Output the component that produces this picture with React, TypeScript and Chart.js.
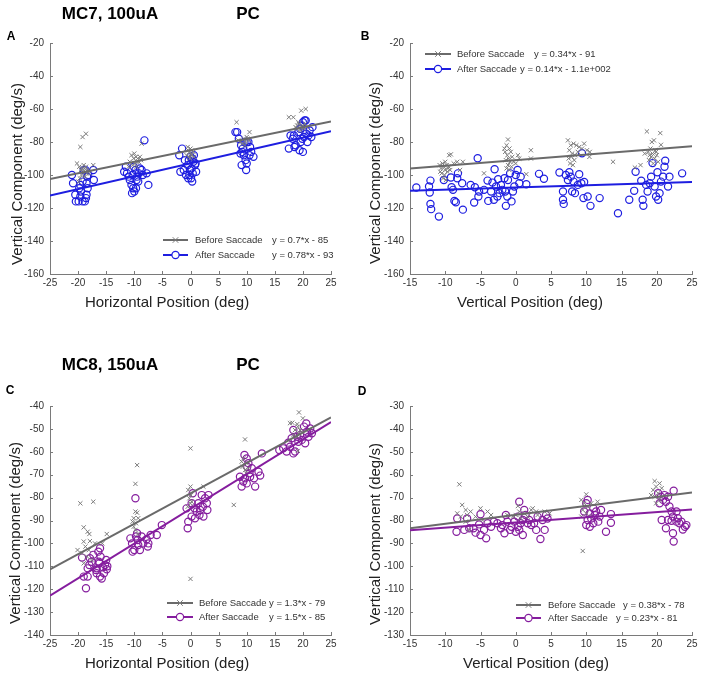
import React, { useEffect, useRef } from "react";
import { Chart, registerables } from "chart.js";
Chart.register(...registerables);

type Pt = [number, number];

const seriesNames = ["Before Saccade", "After Saccade"];

// ---------- Panel A (MC7, horizontal) ----------
const aBefore: Pt[] = [
  [-19.6,-83],[-19.2,-77],[-18.6,-75],[-20.2,-93],[-19.8,-95],[-19.5,-97],[-19.2,-98],[-18.9,-96],[-18.6,-95],[-18.3,-97],
  [-18,-99],[-17.3,-94],[-19.4,-100],[-19.7,-102],[-19.9,-104],[-18.8,-101],[-19,-94],[-18.5,-99],[-19.3,-96],[-18.7,-98],
  [-10.5,-88],[-10,-87],[-9.7,-89],[-9.4,-90],[-9.2,-92],[-8.8,-91],[-10.8,-92],[-10.3,-94],[-9.9,-93],[-9.6,-95],
  [-11,-95],[-8.7,-81],[-9,-89],[-10.1,-90],[-9.5,-92],
  [-0.5,-83],[0,-84],[-0.2,-86],[0.3,-85],[-0.7,-88],[-0.3,-89],[0.1,-87],[0.5,-86],[-0.1,-90],[0.2,-88],[-0.4,-85],[0.6,-89],
  [8.2,-68],[8.5,-79],[9.8,-80],[10.2,-78],[10.5,-74],[9.5,-78],[10,-77],[9.2,-81],[8.9,-80],[10.4,-79],[9.7,-82],
  [17.5,-65],[18.3,-65],[19.7,-61],[20.5,-60],[19,-70],[19.3,-69],[19.6,-71],[19.9,-70],[20.1,-72],[19.5,-73],
  [18.7,-71],[20.4,-69],[20.7,-71],[19.2,-68],[18.9,-72],
];
const aAfter: Pt[] = [
  [-21.1,-100],[-20.9,-105],[-20.5,-112],[-20.4,-116],[-19.9,-116],[-19.6,-113],[-19.5,-110],[-19.8,-108],[-19.2,-116],[-18.8,-116],
  [-18.5,-112],[-18.3,-108],[-18.5,-105],[-18.4,-101],[-19,-97],[-18.7,-97],[-17.3,-97],[-17.2,-103],[-18.2,-100],[-19.2,-104],
  [-19.6,-106],[-18.6,-114],
  [-11.5,-95],[-11.3,-99],[-11,-101],[-10.8,-103],[-10.5,-106],[-10.2,-108],[-10,-110],[-10.3,-100],[-9.8,-97],[-9.5,-101],
  [-9.2,-99],[-9,-96],[-8.7,-97],[-8.5,-100],[-7.8,-99],[-7.5,-106],[-8.2,-79],[-9.7,-108],[-10.4,-111],[-9.3,-104],
  [-11.8,-98],[-10.1,-95],[-9.6,-103],
  [-2,-88],[-1.5,-84],[-1.8,-98],[-1.2,-97],[-0.8,-100],[-0.5,-94],[-0.3,-91],[0,-89],[0.3,-90],[0.5,-92],
  [0.2,-96],[-0.1,-97],[0.4,-99],[0.1,-102],[0.3,-104],[-0.4,-102],[0.8,-94],[1,-98],[-1,-91],[0.6,-88],[-0.2,-100],[0.9,-93],
  [8,-74],[8.3,-74],[8.6,-78],[9,-82],[9.3,-84],[9.6,-80],[10,-80],[10.3,-80],[9.2,-86],[9.5,-88],
  [9.8,-91],[10,-93],[9.9,-97],[9.1,-94],[10.5,-88],[10.8,-86],[11.2,-89],[8.9,-87],[10.6,-83],
  [17.5,-84],[17.8,-76],[18.2,-78],[18.5,-83],[18.7,-82],[18.4,-76],[19.2,-74],[19.5,-72],[19.8,-70],[20,-68],
  [20.3,-67],[20.5,-67],[19.9,-78],[20.2,-77],[19.4,-85],[20,-86],[20.8,-80],[21,-76],[21.2,-73],[21.5,-77],
  [21.7,-71],[20.6,-75],[19.6,-80],
];
const aBeforeFit: Pt[] = [[-25,-102.5],[25,-67.5]];
const aAfterFit: Pt[] = [[-25,-112.5],[25,-73.5]];
const aEq = ["y = 0.7*x - 85", "y = 0.78*x - 93"];
const aXTicks = [-25, 25, 5];
const aYTicks = [-160, -20, 20];

// ---------- Panel B (MC7, vertical) ----------
const bBefore: Pt[] = [
  [-10.8,-94],[-10.6,-96],[-10.4,-93],[-10.2,-95],[-10,-97],[-9.8,-94],[-9.6,-96],[-10.5,-99],[-10.1,-100],[-9.7,-98],
  [-10.3,-102],[-9.9,-103],[-10.7,-98],[-9.5,-95],[-10,-92],[-9.3,-97],
  [-9.45,-88],[-9.2,-87.5],[-8.3,-92],[-7.5,-92],[-7.9,-97],[-8.8,-93],[-4.5,-99],
  [-1.1,-78.5],[-1.3,-82],[-0.9,-84],[-1.5,-86],[-1.2,-88],[-0.7,-86],[-1,-90],[-1.4,-91],[-0.8,-92],[-1.1,-94],
  [-0.6,-95],[-1.3,-96],[-0.9,-97],[-0.5,-89],[-0.3,-92],[-1.6,-84],[0.3,-88],[0.5,-90],[0,-93],[2.15,-85],[2.15,-90],[1.5,-99.5],
  [7.4,-79],[7.8,-82],[8.2,-81],[8.6,-82],[9,-83],[9.4,-84],[9.7,-81],[10.1,-85],[10.45,-89],[10.5,-86],
  [7.6,-85],[8,-87],[7.9,-89],[8.3,-91],[7.7,-93],[8.1,-94],[8.4,-88],[7.5,-90],[8.8,-86],[13.8,-92],
  [18.6,-73.6],[20.5,-74.6],[20.6,-81.7],[19.3,-80],[19.6,-79],[19.1,-84],[18.8,-86],[19.4,-87],[19.8,-85],[20,-88],
  [19.2,-89],[19.7,-90],[18.9,-91],[20.2,-92],[19.5,-93],[18.3,-87],[17.7,-94],[16.9,-95.5],[19,-88],[19.9,-86],
];
const bAfter: Pt[] = [
  [-14.1,-107.6],[-12.3,-107],[-12.2,-110.6],[-12.1,-103.4],[-12.1,-117.5],[-12,-120.7],[-10.9,-125.2],[-10.2,-103],[-9.2,-101.5],[-9.1,-107.4],
  [-8.9,-109],[-8.7,-115.7],[-8.5,-116.5],[-8.3,-102],[-8.2,-99],[-7.6,-105],[-7.5,-121],[-6.4,-106],[-5.9,-116.7],[-5.8,-107.4],
  [-5.4,-89.8],[-5.3,-113],[-5.2,-110],[-4.5,-109],[-4,-103.4],[-3.9,-115.7],[-3.5,-110],[-3.3,-104.6],[-3.1,-115],[-3,-96.5],
  [-2.8,-107],[-2.6,-113],[-2.5,-102.5],[-2.3,-111],[-2.1,-106],[-1.9,-109],[-1.6,-102],[-1.5,-110],[-1.4,-118.7],[-1.2,-113],
  [-1.1,-103],[-0.8,-99],[-0.6,-116],[-0.4,-110],[-0.2,-107],[0,-100],[0.26,-97],[0.5,-105],[0.7,-101],[1.5,-105.6],
  [3.3,-99.3],[4,-102.3],[6.2,-98.5],[6.7,-110],[6.7,-115],[6.8,-117.5],[7.1,-100],[7.4,-103],[7.6,-98.3],[7.8,-101],
  [8,-110],[8.2,-104],[8.4,-111],[8.8,-106],[9,-99.5],[9.3,-105],[9.4,-86.8],[9.6,-114],[9.7,-104.2],[10.2,-113],
  [10.6,-118.7],[11.9,-114],[14.5,-123.2],[16.1,-115],[16.8,-109.6],[17,-98],[17.8,-103.5],[18,-115],[18.1,-118.7],[18.5,-106],
  [18.7,-110],[19,-105],[19.2,-101],[19.4,-92.8],[19.7,-107],[19.9,-113],[20.1,-98.3],[20.2,-115],[20.4,-111],[20.6,-104],
  [20.9,-101],[21.1,-95],[21.2,-91.4],[21.6,-107],[21.8,-101],[23.6,-99],
];
const bBeforeFit: Pt[] = [[-15,-96.1],[25,-82.5]];
const bAfterFit: Pt[] = [[-15,-109.5],[25,-104.3]];
const bEq = ["y = 0.34*x - 91", "y = 0.14*x - 1.1e+002"];
const bXTicks = [-15, 25, 5];
const bYTicks = [-160, -20, 20];

// ---------- Panel C (MC8, horizontal) ----------
const cBefore: Pt[] = [
  [-19.6,-82.5],[-17.3,-81.8],[-18.3,-94.9],[-18,-95.9],[-14.9,-95.9],[-19,-93],[-20.1,-102.9],[-19,-99.2],[-17.9,-99],[-18.7,-101.4],
  [-19.3,-104.3],[-18.4,-105.8],[-19,-108.7],[-18.1,-102.9],[-17,-100],[-15.7,-100],[-17.6,-107.3],
  [-9.8,-74],[-9.5,-65.8],[-9.8,-86.1],[-9.5,-86.6],[-10.1,-89],[-9.3,-89],[-10.1,-92.7],[-9.8,-94.1],[-9.4,-95.9],[-10.3,-90.5],[-9.7,-91.2],
  [0,-58.5],[0,-75.2],[-0.4,-76.7],[0.1,-78.9],[-0.2,-80.3],[0.2,-81.8],[0,-82.5],[-0.5,-84],[2.3,-75.2],[0,-115.5],[7.7,-83.2],
  [9.7,-54.6],[9.1,-64.3],[9.4,-62.9],[10,-65],[9.3,-66.5],[9.7,-68],[10.3,-67.2],[9.9,-69.4],
  [17.7,-47.5],[19.3,-42.8],[20,-45.4],[18.1,-47.3],[19,-47.9],[19.1,-49],[18.6,-50.5],[19.5,-50.5],[19.2,-52],[18.3,-52.7],
  [19.8,-51.2],[19,-53.4],[19.1,-59.6],
];
const cAfter: Pt[] = [
  [-19.3,-106.2],[-19,-114.5],[-18.3,-114.5],[-18.6,-119.6],[-18.3,-110.9],[-18,-109.4],[-17.6,-108],[-17.9,-106.5],[-17.3,-105],[-16.8,-111.6],
  [-16.7,-113],[-16.4,-103.6],[-16.2,-108.7],[-16.1,-114.5],[-16,-105.8],[-15.6,-110.4],[-15.8,-115.3],[-16.1,-102.1],[-15.2,-109.4],[-15,-107.2],
  [-14.9,-111.3],[-14.8,-110],[-16.7,-110.9],[-16.3,-108],[-15.4,-113],
  [-10.7,-97.8],[-10.4,-100],[-10.3,-103.6],[-10,-102.9],[-9.8,-80.3],[-9.7,-97],[-9.5,-95.6],[-9.4,-98.5],[-9.3,-100.7],[-9,-102.9],
  [-8.7,-97],[-8.4,-100],[-7.8,-98.2],[-7.5,-100],[-7.1,-96.3],[-7.6,-101.4],[-5.1,-92],[-6,-96.3],
  [-0.7,-84.7],[-0.4,-90.5],[-0.5,-93.4],[0.2,-88.3],[0.4,-78.1],[0.2,-82.5],[0.7,-84.7],[1.1,-86.1],[0.8,-89],[1.4,-82.5],
  [1.7,-85.4],[2,-78.9],[2.2,-84],[2.3,-88.3],[2.6,-80.3],[2.9,-82.5],[3,-85.4],[3.2,-78.9],[1.6,-87.6],
  [9.6,-61.4],[10,-62.9],[10.3,-65],[8.8,-70.9],[9.1,-75.2],[9.7,-71.6],[10,-73.8],[10.5,-69.4],[10.9,-67.2],[11.3,-71.6],
  [11.5,-75.2],[12.1,-68.7],[12.4,-70.4],[12.7,-60.7],[10.1,-66.5],[10.6,-70.9],[9.4,-73],
  [15.8,-59.2],[16.5,-58.5],[17.1,-59.9],[17.4,-56],[17.7,-57.8],[18.3,-60.7],[18.6,-59.9],[18,-54.1],[19,-53.4],[19.2,-55.6],
  [19.5,-52.7],[19.8,-54.8],[20.2,-49],[20.6,-47.6],[20.7,-51.2],[21,-53.4],[21.3,-49.8],[21.6,-51.9],[20.4,-56.3],[18.3,-50.5],
];
const cBeforeFit: Pt[] = [[-25,-111.3],[25,-45]];
const cAfterFit: Pt[] = [[-25,-122.8],[25,-47]];
const cEq = ["y = 1.3*x - 79", "y = 1.5*x - 85"];
const cXTicks = [-25, 25, 5];
const cYTicks = [-140, -40, 10];

// ---------- Panel D (MC8, vertical) ----------
const dBefore: Pt[] = [
  [-8,-64.2],[-8.3,-76.9],[-7.6,-73.2],[-7.1,-75.4],[-7.8,-78.3],[-6.9,-77.6],[-6.4,-76.1],[-5.7,-78.3],[-5,-74.7],[-4,-76.1],
  [-4.7,-79.8],[-3.5,-77.6],[-7.1,-80.5],[-6.6,-84.1],
  [0.3,-73.7],[-0.4,-78.3],[0,-77.6],[0.5,-76.1],[0.7,-79.1],[1.2,-76.9],[1.7,-78.3],[2.2,-75.4],[2.4,-74.7],[2.9,-76.1],
  [3.1,-77.6],[4.1,-76.1],[4.8,-76.9],[-1.2,-77.6],
  [10,-68.6],[9.3,-71],[9.7,-72.5],[10.2,-74],[9.5,-75.4],[10,-76.9],[9.3,-78.3],[10.7,-72.5],[11.6,-71.8],[9.5,-93.3],[10.5,-78.3],
  [19.7,-62.8],[20.4,-63.8],[19.9,-65.2],[19.5,-66.7],[20.2,-68.1],[19.7,-69.6],[20.4,-71],[19.9,-72.5],[19.2,-68.9],[20.7,-65.9],
];
const dAfter: Pt[] = [
  [-8.4,-84.9],[-8.3,-79.1],[-7.3,-84.1],[-6.9,-79.1],[-6.6,-83.4],[-6,-83.4],[-5.7,-85.3],[-5.2,-81.7],[-5,-86.3],[-4.5,-84.1],
  [-4.2,-87.8],[-4,-81.2],[-5,-77.3],[-3.5,-82.7],[-3.1,-80.5],[-2.6,-81.2],[-2.1,-83.4],[-1.9,-82],[-1.6,-85.6],[-1.4,-77.6],
  [-1.2,-80.5],[-0.8,-84.1],[-0.6,-82.7],[-0.2,-80.5],[0,-84.9],[0.3,-82.7],[0.5,-71.8],[0.7,-81.2],[1,-79.8],[1.2,-75.4],
  [1.4,-77.6],[1,-86.3],[1.7,-81.2],[1.9,-79.8],[2.2,-82],[2.6,-81.2],[2.9,-84.1],[3.1,-78.3],[3.5,-88.1],[3.8,-79.8],
  [4.1,-84.1],[4.3,-77.6],[4.5,-79.1],[0.5,-84.1],[0.3,-78.3],
  [10,-72.5],[10.2,-71],[9.7,-76.1],[10.5,-76.9],[10.2,-79.8],[10.7,-79.1],[10,-82],[10.5,-82.7],[11.2,-77.6],[11.7,-80.5],
  [11.4,-76.1],[11.9,-78.3],[12.1,-75.4],[12.8,-84.9],[13.5,-77.2],[13.5,-81],[11,-74.7],[11,-81.2],
  [20.2,-68.1],[20.6,-69.6],[21.1,-68.9],[20.9,-71],[21.3,-71.8],[21.6,-69.6],[20.4,-72.5],[21.8,-73.9],[22.4,-67],[22.1,-76.1],
  [22.3,-78.3],[22.8,-76.1],[20.7,-79.8],[21.3,-83.4],[21.6,-79.8],[22.1,-80.1],[22.3,-85.6],[22.4,-89.2],[22.8,-80.5],[23.2,-81.2],
  [23.5,-80.5],[23.7,-83.9],[24,-82.7],[24.2,-82],[23,-79],
];
const dBeforeFit: Pt[] = [[-15,-83.4],[25,-67.8]];
const dAfterFit: Pt[] = [[-15,-84.3],[25,-75.2]];
const dEq = ["y = 0.38*x - 78", "y = 0.23*x - 81"];
const dXTicks = [-15, 25, 5];
const dYTicks = [-130, -30, 10];

// ---------- styling ----------
const FONT = "'Liberation Sans', Arial, Helvetica, sans-serif";
const GRAY_PT = "#7c7c7c";
const GRAY_LINE = "#6a6a6a";
const BLUE = "#1e1ee0";
const PURPLE = "#851d9e";
const AXIS = "#7a7a7a";
const TICK = "#333333";

interface PanelDef {
  left: number; top: number; w: number; h: number;
  area: { left: number; top: number; right: number; bottom: number };
  before: Pt[]; after: Pt[]; beforeFit: Pt[]; afterFit: Pt[];
  eq: string[]; xr: number[]; yr: number[]; color: string;
  leg: { x0: number; x1: number; ys: number[]; tx: number; eqX: number[] };
}

const panels: PanelDef[] = [
  { left: 0, top: 0, w: 351, h: 320, area: { left: 50, top: 43, right: 331, bottom: 274 },
    before: aBefore, after: aAfter, beforeFit: aBeforeFit, afterFit: aAfterFit, eq: aEq, xr: aXTicks, yr: aYTicks, color: BLUE,
    leg: { x0: 163, x1: 188, ys: [240, 255], tx: 195, eqX: [272, 272] } },
  { left: 351, top: 0, w: 351, h: 320, area: { left: 59, top: 43, right: 341, bottom: 274 },
    before: bBefore, after: bAfter, beforeFit: bBeforeFit, afterFit: bAfterFit, eq: bEq, xr: bXTicks, yr: bYTicks, color: BLUE,
    leg: { x0: 74, x1: 100, ys: [54, 69], tx: 106, eqX: [183, 169] } },
  { left: 0, top: 330, w: 351, h: 344, area: { left: 50, top: 76, right: 331, bottom: 305 },
    before: cBefore, after: cAfter, beforeFit: cBeforeFit, afterFit: cAfterFit, eq: cEq, xr: cXTicks, yr: cYTicks, color: PURPLE,
    leg: { x0: 167, x1: 193, ys: [273, 287], tx: 199, eqX: [269, 269] } },
  { left: 351, top: 330, w: 351, h: 344, area: { left: 59, top: 76, right: 341, bottom: 305 },
    before: dBefore, after: dAfter, beforeFit: dBeforeFit, afterFit: dAfterFit, eq: dEq, xr: dXTicks, yr: dYTicks, color: PURPLE,
    leg: { x0: 165, x1: 190, ys: [275, 288], tx: 197, eqX: [272, 265] } },
];

function drawCross(ctx: CanvasRenderingContext2D, x: number, y: number, r: number) {
  ctx.beginPath();
  ctx.moveTo(x - r, y - r); ctx.lineTo(x + r, y + r);
  ctx.moveTo(x - r, y + r); ctx.lineTo(x + r, y - r);
  ctx.stroke();
}

function Panel({ p }: { p: PanelDef }) {
  const ref = useRef<HTMLCanvasElement>(null);
  useEffect(() => {
    const mk = (d: Pt[]) => d.map(([x, y]) => ({ x, y }));
    const inTicks = {
      id: "inTicks",
      afterDraw(chart: any) {
        const { ctx, chartArea, scales } = chart;
        const xs = scales.x, ys = scales.y;
        ctx.save();
        ctx.strokeStyle = AXIS;
        ctx.lineWidth = 1;
        ctx.beginPath();
        for (const t of xs.ticks) {
          const px = Math.round(xs.getPixelForValue(t.value)) + 0.5;
          ctx.moveTo(px, chartArea.bottom);
          ctx.lineTo(px, chartArea.bottom - 3);
        }
        for (const t of ys.ticks) {
          const py = Math.round(ys.getPixelForValue(t.value)) + 0.5;
          ctx.moveTo(chartArea.left, py);
          ctx.lineTo(chartArea.left + 3, py);
        }
        ctx.stroke();
        ctx.restore();
      },
    };
    const legend = {
      id: "sacLegend",
      afterDraw(chart: any) {
        const ctx: CanvasRenderingContext2D = chart.ctx;
        const L = p.leg;
        ctx.save();
        [0, 1].forEach((i) => {
          const y = L.ys[i];
          const col = i === 0 ? GRAY_LINE : p.color;
          ctx.strokeStyle = col;
          ctx.lineWidth = 2;
          ctx.beginPath();
          ctx.moveTo(L.x0, y); ctx.lineTo(L.x1, y);
          ctx.stroke();
          const cx = (L.x0 + L.x1) / 2;
          if (i === 0) {
            ctx.strokeStyle = GRAY_PT; ctx.lineWidth = 1;
            drawCross(ctx, cx, y, 2.8);
          } else {
            ctx.strokeStyle = p.color; ctx.lineWidth = 1.2;
            ctx.fillStyle = "#ffffff";
            ctx.beginPath(); ctx.arc(cx, y, 3.6, 0, Math.PI * 2); ctx.fill(); ctx.stroke();
          }
          ctx.fillStyle = TICK;
          ctx.font = `9.5px ${FONT}`;
          ctx.textBaseline = "middle";
          ctx.textAlign = "left";
          ctx.fillText(seriesNames[i], L.tx, y);
          ctx.fillText(p.eq[i], L.eqX[i], y);
        });
        ctx.restore();
      },
    };
    const chart = new Chart(ref.current as HTMLCanvasElement, {
      type: "scatter",
      data: {
        datasets: [
          { label: "After fit", data: mk(p.afterFit), showLine: true, borderColor: p.color, borderWidth: 2, pointRadius: 0, order: 0 } as any,
          { label: "Before fit", data: mk(p.beforeFit), showLine: true, borderColor: GRAY_LINE, borderWidth: 2, pointRadius: 0, order: 1 } as any,
          { label: seriesNames[0], data: mk(p.before), pointStyle: "crossRot", pointRadius: 3, borderColor: GRAY_PT, backgroundColor: GRAY_PT, borderWidth: 1, order: 2 } as any,
          { label: seriesNames[1], data: mk(p.after), pointStyle: "circle", pointRadius: 3.6, borderColor: p.color, backgroundColor: "rgba(0,0,0,0)", borderWidth: 1.2, order: 3 } as any,
        ],
      },
      options: {
        responsive: false,
        animation: false,
        events: [],
        layout: { padding: { left: 0, top: p.area.top, right: p.w - p.area.right, bottom: 0 } },
        font: { family: FONT } as any,
        plugins: { legend: { display: false }, tooltip: { enabled: false }, title: { display: false } },
        scales: {
          x: {
            type: "linear", min: p.xr[0], max: p.xr[1],
            afterFit: (s: any) => { s.height = p.h - p.area.bottom; },
            ticks: { stepSize: p.xr[2], autoSkip: false, maxRotation: 0, padding: 3, color: TICK, font: { size: 10, family: FONT } },
            grid: { display: false, drawTicks: false },
            border: { display: true, color: AXIS, width: 1 },
          },
          y: {
            type: "linear", min: p.yr[0], max: p.yr[1],
            afterFit: (s: any) => { s.width = p.area.left; },
            ticks: { stepSize: p.yr[2], autoSkip: false, padding: 6, color: TICK, font: { size: 10, family: FONT } },
            grid: { display: false, drawTicks: false },
            border: { display: true, color: AXIS, width: 1 },
          },
        },
      } as any,
      plugins: [inTicks, legend],
    });
    return () => chart.destroy();
  }, [p]);
  return (
    <canvas ref={ref} width={p.w} height={p.h}
      style={{ position: "absolute", left: p.left, top: p.top, width: p.w, height: p.h }} />
  );
}

const labels = [
  { t: "MC7, 100uA", x: 110, y: 12.5, s: 17, b: true, r: false },
  { t: "PC", x: 248, y: 12.5, s: 17, b: true, r: false },
  { t: "MC8, 150uA", x: 110, y: 364, s: 17, b: true, r: false },
  { t: "PC", x: 248, y: 364, s: 17, b: true, r: false },
  { t: "A", x: 11, y: 36, s: 12, b: true, r: false },
  { t: "B", x: 365, y: 36, s: 12, b: true, r: false },
  { t: "C", x: 10, y: 390, s: 12, b: true, r: false },
  { t: "D", x: 362, y: 391, s: 12, b: true, r: false },
  { t: "Vertical Component (deg/s)", x: 16, y: 174, s: 15, b: false, r: true },
  { t: "Vertical Component (deg/s)", x: 374, y: 173, s: 15, b: false, r: true },
  { t: "Vertical Component (deg/s)", x: 14, y: 533, s: 15, b: false, r: true },
  { t: "Vertical Component (deg/s)", x: 374, y: 534, s: 15, b: false, r: true },
  { t: "Horizontal Position (deg)", x: 167, y: 301, s: 15, b: false, r: false },
  { t: "Vertical Position (deg)", x: 530, y: 301, s: 15, b: false, r: false },
  { t: "Horizontal Position (deg)", x: 167, y: 662, s: 15, b: false, r: false },
  { t: "Vertical Position (deg)", x: 536, y: 662, s: 15, b: false, r: false },
];

export default function App() {
  return (
    <div style={{ position: "absolute", left: 0, top: 0, width: 702, height: 674, background: "#ffffff", overflow: "hidden" }}>
      {panels.map((p, i) => <Panel key={i} p={p} />)}
      {labels.map((l, i) => (
        <div key={"l" + i} style={{
          position: "absolute", left: l.x, top: l.y, whiteSpace: "nowrap",
          transform: `translate(-50%, -50%)${l.r ? " rotate(-90deg)" : ""}`,
          fontFamily: FONT, fontSize: l.s, fontWeight: l.b ? 700 : 400,
          color: l.b ? "#000" : "#222", lineHeight: 1,
        }}>{l.t}</div>
      ))}
    </div>
  );
}
